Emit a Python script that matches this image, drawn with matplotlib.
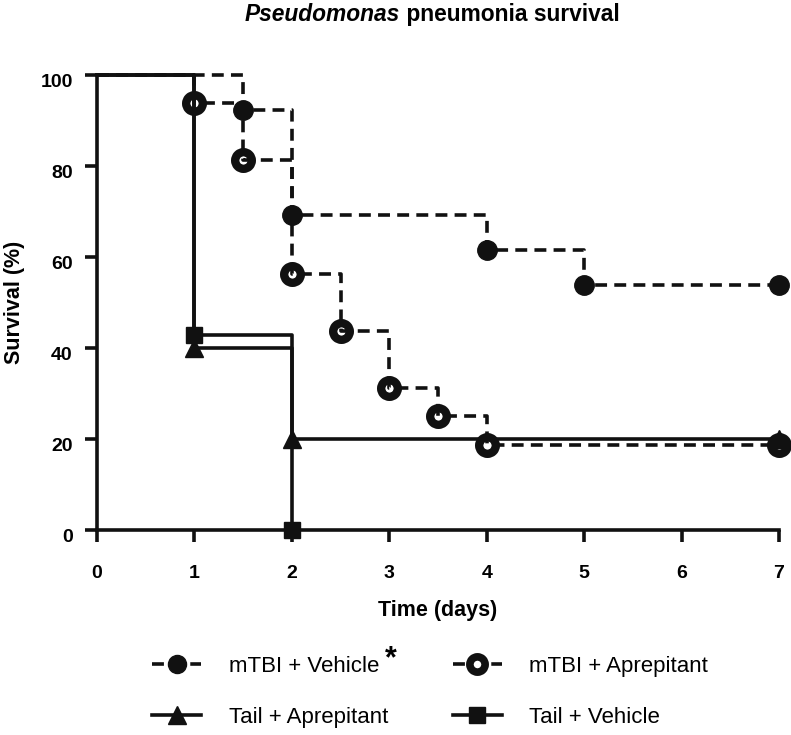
import matplotlib
matplotlib.use("Agg")
import matplotlib.pyplot as plt
from matplotlib.transforms import ScaledTranslation

plt.rcParams['font.family'] = ['Liberation Sans', 'DejaVu Sans']

# Kaplan-Meier curves (time in days, survival in %)
veh_t = [0, 1.5, 2, 4, 5, 7]
veh_s = [100, 92.3, 69.2, 61.5, 53.8, 53.8]
apr_t = [0, 1, 1.5, 2, 2.5, 3, 3.5, 4, 7]
apr_s = [100, 93.75, 81.25, 56.25, 43.75, 31.25, 25, 18.75, 18.75]
tail_apr_t = [0, 1, 2, 7]
tail_apr_s = [100, 40, 20, 20]
tail_veh_t = [0, 1, 2]
tail_veh_s = [100, 42.9, 0]

labels = ['mTBI + Vehicle', 'mTBI + Aprepitant', 'Tail + Aprepitant', 'Tail + Vehicle']
xticks = [0, 1, 2, 3, 4, 5, 6, 7]
yticks = [0, 20, 40, 60, 80, 100]

col = '#111111'
lw = 2.6
dash = (0, (3.3, 2.0))

fig = plt.figure(figsize=(7.91, 7.35), dpi=100)
ax = fig.add_axes([0.1226, 0.2789, 0.8622, 0.6191])


def km(t, s, ls, mz=3, **mk):
    ax.step(t, s, where='post', color=col, lw=lw, ls=ls, clip_on=False, zorder=2)
    h, = ax.plot(t[1:], s[1:], ls='none', clip_on=False, zorder=mz, **mk)
    return h


km(veh_t, veh_s, dash, marker='o', ms=14, mfc=col, mec=col)
# open circles sit under the line so the dash shows in the white centre
km(apr_t, apr_s, dash, mz=1.5, marker='o', ms=12, mfc='white', mec=col, mew=6)
km(tail_apr_t, tail_apr_s, '-', marker='^', ms=13, mfc=col, mec=col)
km(tail_veh_t, tail_veh_s, '-', marker='s', ms=12, mfc=col, mec=col)

ax.set_xlim(0, 7)
ax.set_ylim(0, 100)
ax.set_xticks(xticks)
ax.set_yticks(yticks)
for sp in ['top', 'right']:
    ax.spines[sp].set_visible(False)
for sp in ['left', 'bottom']:
    ax.spines[sp].set_linewidth(2.6)
    ax.spines[sp].set_color(col)
ax.tick_params(width=2.6, length=8.5, color=col, labelsize=14)
ax.tick_params(axis='x', pad=17)
ax.tick_params(axis='y', pad=9)
for lab in ax.get_xticklabels() + ax.get_yticklabels():
    lab.set_fontweight('bold')
for lab in ax.get_yticklabels():
    lab.set_transform(lab.get_transform() + ScaledTranslation(0, -4 / 72, fig.dpi_scale_trans))
ax.set_xlabel('Time (days)', fontsize=15.5, fontweight='bold', labelpad=13)
ax.set_ylabel('Survival (%)', fontsize=15.5, fontweight='bold', labelpad=11)


# legend handles with lines through the markers
def lh(ls, **mk):
    return plt.Line2D([], [], color=col, lw=lw, ls=ls, **mk)


handles = [lh(dash, marker='o', ms=13, mfc=col, mec=col),
           lh('-', marker='^', ms=13, mfc=col, mec=col),
           lh(dash, marker='o', ms=11, mfc='white', mec=col, mew=5.5),
           lh('-', marker='s', ms=12, mfc=col, mec=col)]
fig.legend(handles, [labels[0], labels[2], labels[1], labels[3]], ncol=2,
           loc='center', bbox_to_anchor=(0.544, 0.0585), frameon=False,
           fontsize=16, handlelength=2.2, handletextpad=1.25,
           columnspacing=2.9, labelspacing=1.35, numpoints=1)
fig.text(0.494, 0.103, '*', fontsize=22, fontweight='bold', ha='center', va='center')

# title: italic genus name + plain bold rest, centred together
fig.canvas.draw()
r = fig.canvas.get_renderer()
t1 = fig.text(0, 0.9714, 'Pseudomonas', fontsize=16.4, fontweight='bold', style='italic', va='baseline')
t2 = fig.text(0, 0.9714, ' pneumonia survival', fontsize=16.4, fontweight='bold', va='baseline')
w1 = t1.get_window_extent(r).width / fig.bbox.width
w2 = t2.get_window_extent(r).width / fig.bbox.width
x0 = 0.546 - (w1 + w2) / 2
t1.set_x(x0)
t2.set_x(x0 + w1)

fig.savefig('out.png', dpi=100)
